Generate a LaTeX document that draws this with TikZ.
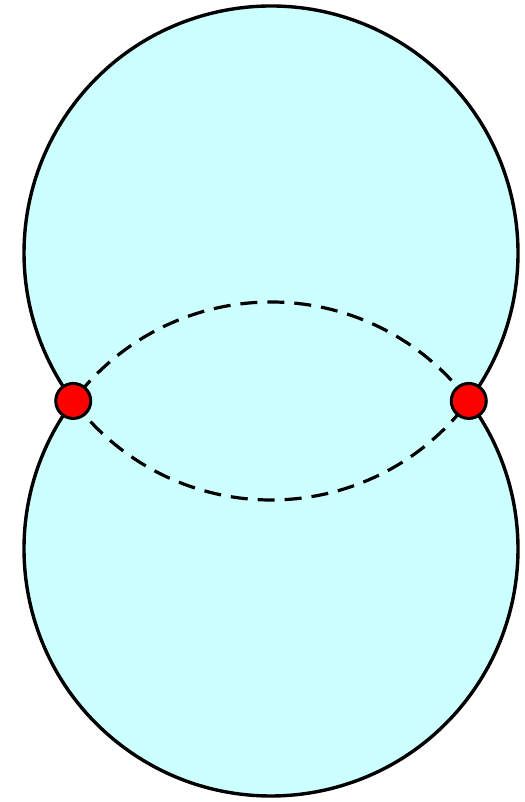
\documentclass[tikz,border=0pt]{standalone}
\usetikzlibrary{calc}
\definecolor{lensfill}{HTML}{CCFFFF}
\begin{document}
\begin{tikzpicture}[x=1pt,y=1pt,
  outline/.style={draw=black,line width=3.4pt},
  hidden/.style={draw=black,line width=3.2pt,dash pattern=on 17pt off 10pt},
  joint/.style={circle,fill=red,draw=black,line width=3pt,minimum size=35pt,inner sep=0pt}]
\useasboundingbox (0,0) rectangle (524,802);
\def\ang{36.8}
\coordinate (ctop) at (271,549);
\coordinate (cbot) at (271,253);
% fill
\fill[lensfill] (ctop) circle (247);
\fill[lensfill] (cbot) circle (247);
% outer arcs
\draw[outline] ($(ctop)+(-\ang:247)$) arc[start angle=-\ang,end angle=180+\ang,radius=247];
\draw[outline] ($(cbot)+(180-\ang:247)$) arc[start angle=180-\ang,end angle=360+\ang,radius=247];
% inner dashed arcs
\draw[hidden] ($(cbot)+(\ang:247)$) arc[start angle=\ang,end angle=180-\ang,radius=247];
\draw[hidden] ($(ctop)+(180+\ang:247)$) arc[start angle=180+\ang,end angle=360-\ang,radius=247];
% intersection points
\node[joint] (pl) at ($(ctop)+(180+\ang:247)$) {};
\node[joint] (pr) at ($(ctop)+(-\ang:247)$) {};
\end{tikzpicture}
\end{document}
